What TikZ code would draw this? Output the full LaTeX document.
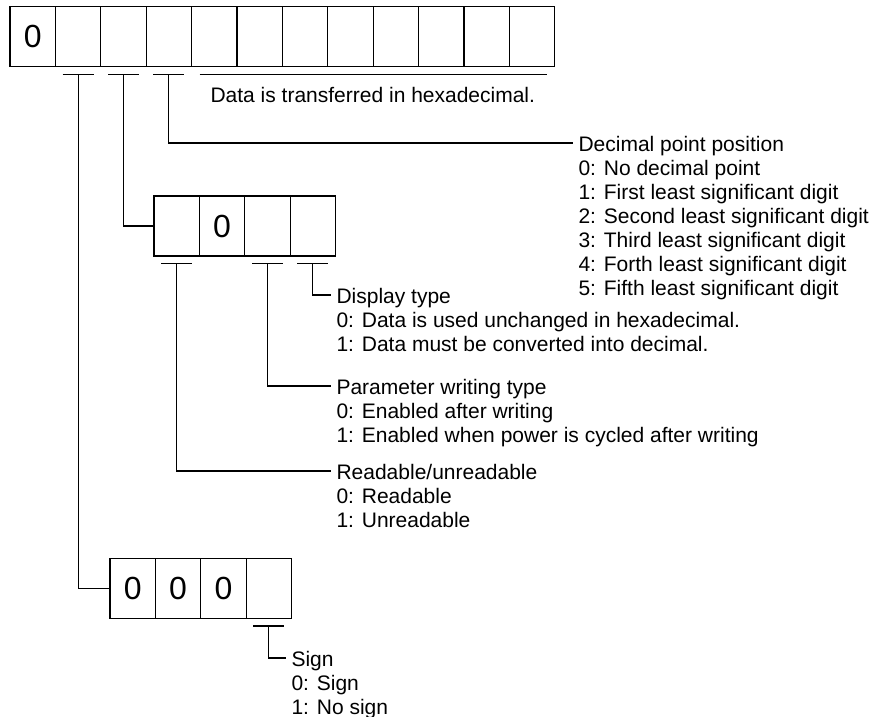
\documentclass[tikz,border=0pt]{standalone}
\usepackage{fontspec}
\setmainfont{Liberation Sans}
\usepackage{tikz}
\usetikzlibrary{positioning,calc}

\newcommand{\notefont}{\fontsize{21pt}{24pt}\selectfont}
\newcommand{\digitfont}{\fontsize{32pt}{36pt}\selectfont}

\begin{document}
\begin{tikzpicture}[x=1pt, y=-1pt, line width=1.1pt, node distance=0pt]
    \tikzstyle{cell} = [rectangle, draw, minimum width=45.4pt, minimum height=60pt, inner sep=0pt, outer sep=0pt, font=\digitfont]
    \tikzstyle{note} = [align=left, anchor=north west, inner xsep=5pt, inner ysep=0pt, font=\notefont]

    \useasboundingbox (0,0) rectangle (883,717);

    % parameter data row
    \node [cell] (c1) at (32.7,36.7) {0};
    \node [cell, right=of c1] (c2) {};
    \node [cell, right=of c2] (c3) {};
    \node [cell, right=of c3] (c4) {};
    \node [cell, right=of c4] (c5) {};
    \node [cell, right=of c5] (c6) {};
    \node [cell, right=of c6] (c7) {};
    \node [cell, right=of c7] (c8) {};
    \node [cell, right=of c8] (c9) {};
    \node [cell, right=of c9] (c10) {};
    \node [cell, right=of c10] (c11) {};
    \node [cell, right=of c11] (c12) {};

    % symbol digit
    \node [cell] (m1) at (176.7,226) {};
    \node [cell, right=of m1] (m2) {0};
    \node [cell, right=of m2] (m3) {};
    \node [cell, right=of m3] (m4) {};

    % sign digit
    \node [cell] (b1) at (132.7,588.5) {0};
    \node [cell, right=of b1] (b2) {0};
    \node [cell, right=of b2] (b3) {0};
    \node [cell, right=of b3] (b4) {};

    \coordinate (t2) at ([yshift=-7.5pt]c2.south);
    \coordinate (t3) at ([yshift=-7.5pt]c3.south);
    \coordinate (t4) at ([yshift=-7.5pt]c4.south);
    \coordinate (u1) at ([yshift=-7.5pt]m1.south);
    \coordinate (u3) at ([yshift=-7.5pt]m3.south);
    \coordinate (u4) at ([yshift=-7.5pt]m4.south);
    \coordinate (v4) at ([yshift=-7.5pt]b4.south);
    \foreach \t in {t2,t3,t4,u1,u3,u4,v4}
        \draw ([xshift=-15.5pt]\t) -- ([xshift=15.5pt]\t);
    \draw ([xshift=8pt,yshift=-7.5pt]c5.south west) -- ([xshift=-8pt,yshift=-7.5pt]c12.south east);

    \node [inner sep=0pt, anchor=west, font=\notefont] (hex) at (210,95) {Data is transferred in hexadecimal.};

    \node [note] (dec) at (573,135.5) {Decimal point position\\0: No decimal point\\1: First least significant digit\\2: Second least significant digit\\3: Third least significant digit\\4: Forth least significant digit\\5: Fifth least significant digit};
    \node [note] (disp) at (331,287.5) {Display type\\0: Data is used unchanged in hexadecimal.\\1: Data must be converted into decimal.};
    \node [note] (wrt) at (331,378.5) {Parameter writing type\\0: Enabled after writing\\1: Enabled when power is cycled after writing};
    \node [note] (rd) at (331,463.5) {Readable/unreadable\\0: Readable\\1: Unreadable};
    \node [note] (sgn) at (286,650.5) {Sign\\0: Sign\\1: No sign};

    \draw (t2) |- (b1.west);
    \draw (t3) |- (m1.west);
    \draw (t4) |- ([yshift=-7.5pt]dec.north west);
    \draw (u4) |- ([yshift=-7.5pt]disp.north west);
    \draw (u3) |- ([yshift=-7.5pt]wrt.north west);
    \draw (u1) |- ([yshift=-7.5pt]rd.north west);
    \draw (v4) |- ([yshift=-7.5pt]sgn.north west);
\end{tikzpicture}
\end{document}
